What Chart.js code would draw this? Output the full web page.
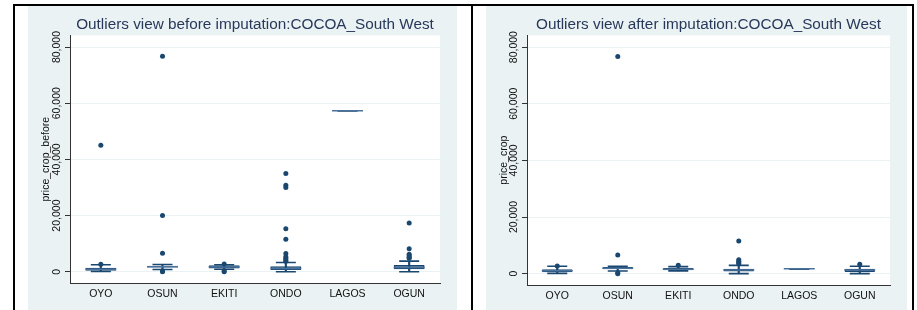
<!DOCTYPE html>
<html>
<head>
<meta charset="utf-8">
<script src="https://cdn.jsdelivr.net/npm/chart.js@4"></script>
<style>
  body { margin: 0; background: #fff; width: 917px; height: 310px; overflow: hidden; position: relative; }
  .rule { position: absolute; background: #000; }
  canvas { position: absolute; background: #eaf2f3; }
</style>
</head>
<body>
<div class="rule" style="left:13px;top:4px;width:901px;height:2px"></div>
<div class="rule" style="left:13px;top:4px;width:2px;height:306px"></div>
<div class="rule" style="left:471px;top:4px;width:2px;height:306px"></div>
<div class="rule" style="left:912px;top:4px;width:2px;height:306px"></div>
<canvas id="before" width="429" height="304" style="left:28px;top:6px"></canvas>
<canvas id="after" width="421" height="304" style="left:486px;top:6px"></canvas>
<script>
const categories = ['OYO', 'OSUN', 'EKITI', 'ONDO', 'LAGOS', 'OGUN'];
const yTicks = [0, 20000, 40000, 60000, 80000];

// before imputation
const beforeLow = [100, 800, 900, 0, 57300, 0];
const beforeQ1 = [400, 1500, 1200, 600, 57300, 850];
const beforeMedian = [900, 1800, 1700, 1200, 57300, 1500];
const beforeQ3 = [1400, 2100, 2300, 2000, 57300, 2400];
const beforeHigh = [2500, 2600, 2500, 3300, 57300, 3800];
const beforeOutliers = [
  [2700, 45000],
  [76700, 20000, 6600, 300, 0],
  [2800, 300, 0],
  [35000, 30800, 30000, 15300, 11600, 6500, 5300, 4800, 4200, 3700],
  [],
  [17400, 8200, 6200, 5700, 5200, 4800]
];

// after imputation
const afterLow = [100, 920, 1000, 0, 1700, 0];
const afterQ1 = [460, 1520, 1170, 810, 1700, 570];
const afterMedian = [1000, 1900, 1600, 1300, 1700, 1300];
const afterQ3 = [1520, 2330, 1980, 1770, 1700, 1770];
const afterHigh = [2600, 2580, 2500, 2930, 1700, 2600];
const afterOutliers = [
  [2700],
  [76700, 6570, 350, 0],
  [2930],
  [11500, 4900, 4400, 3900, 3500],
  [],
  [3300]
];

Chart.defaults.font.family = '"Liberation Sans", Arial, sans-serif';

const NAVY = '#1a476f';

const plotBackground = {
  id: 'plotBackground',
  beforeDraw(chart) {
    const { ctx, chartArea: a } = chart;
    ctx.save();
    ctx.fillStyle = '#ffffff';
    ctx.fillRect(a.left, a.top, a.right - a.left, a.bottom - a.top);
    ctx.restore();
  }
};

function boxChart(id, title, yTitle, low, q1, median, q3, high, outliers, geom) {
  const points = [];
  outliers.forEach((vals, i) => vals.forEach(v => points.push({ x: categories[i], y: v })));

  return new Chart(document.getElementById(id), {
    type: 'bar',
    data: {
      labels: categories,
      datasets: [
        {
          type: 'line', data: points, showLine: false, order: 0,
          pointRadius: 2.5, pointBackgroundColor: NAVY, pointBorderWidth: 0
        },
        {
          type: 'line', data: median, showLine: false, order: 1,
          pointStyle: 'line', pointRadius: 15.5, pointBorderWidth: 1.5, pointBorderColor: '#4a729c'
        },
        {
          data: q1.map((v, i) => [v, q3[i]]), order: 2, grouped: false,
          barPercentage: 0.5, categoryPercentage: 1,
          backgroundColor: '#1f4e7a', borderColor: NAVY, borderWidth: 1.5, borderSkipped: false
        },
        {
          type: 'line', data: low, showLine: false, order: 3,
          pointStyle: 'line', pointRadius: 10, pointBorderWidth: 1.6, pointBorderColor: NAVY
        },
        {
          type: 'line', data: high, showLine: false, order: 3,
          pointStyle: 'line', pointRadius: 10, pointBorderWidth: 1.6, pointBorderColor: NAVY
        },
        {
          data: low.map((v, i) => [v, high[i]]), order: 4, grouped: false,
          barThickness: 1.5, backgroundColor: NAVY, borderWidth: 0
        }
      ]
    },
    options: {
      responsive: false,
      animation: false,
      events: [],
      layout: { padding: { left: 0, right: geom.right, top: 0, bottom: 0 } },
      plugins: {
        legend: { display: false },
        tooltip: { enabled: false },
        title: {
          display: true, text: title, fullSize: false,
          color: '#28385a', font: { size: 15.3, weight: 'normal' },
          padding: { top: 10, bottom: 1 }
        }
      },
      scales: {
        x: {
          offset: true,
          afterFit: s => { s.height = geom.xHeight; },
          grid: { display: false, drawTicks: false },
          border: { display: true, color: '#333', width: 1 },
          ticks: { padding: 5, color: '#111', font: { size: 10.5 } }
        },
        y: {
          min: -4000, max: 84150,
          afterBuildTicks: s => { s.ticks = yTicks.map(v => ({ value: v })); },
          afterFit: s => { s.width = geom.yWidth; },
          grid: { color: '#eaf2f3', lineWidth: 1, tickColor: '#333', tickLength: 5 },
          border: { display: true, color: '#333', width: 1 },
          ticks: {
            minRotation: 90, maxRotation: 90, crossAlign: 'center', padding: -8.5,
            color: '#111', font: { size: 10.5 },
            callback: v => v.toLocaleString('en-US')
          },
          title: {
            display: true, text: yTitle, color: '#111', font: { size: 10.5 },
            padding: { top: 12, bottom: 0 }
          }
        }
      }
    },
    plugins: [plotBackground]
  });
}

boxChart('before', 'Outliers view before imputation:COCOA_South West', 'price_crop_before',
  beforeLow, beforeQ1, beforeMedian, beforeQ3, beforeHigh, beforeOutliers,
  { right: 10, xHeight: 27, yWidth: 42 });

boxChart('after', 'Outliers view after imputation:COCOA_South West', 'price_crop',
  afterLow, afterQ1, afterMedian, afterQ3, afterHigh, afterOutliers,
  { right: 12, xHeight: 25, yWidth: 41 });
</script>
</body>
</html>
